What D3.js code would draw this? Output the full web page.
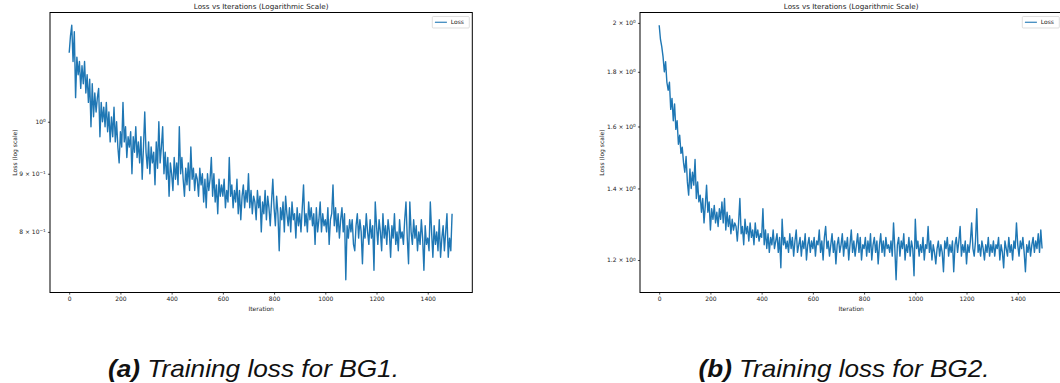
<!DOCTYPE html>
<html>
<head>
<meta charset="utf-8">
<script src="https://cdn.jsdelivr.net/npm/d3@7"></script>
<style>
body { margin: 0; background: #fff; }
svg text { font-family: "DejaVu Sans", sans-serif; fill: #222; }
svg text.caption { font-family: "Liberation Sans", Arial, sans-serif; font-style: italic; fill: #111; }
</style>
</head>
<body>
<div id="chart"></div>
<script>
var width = 1060, height = 383;

// loss, one value every 5 iterations (0..1495), run goes to 1499
var iterStep = 5, lastIter = 1499;

var lossBG1 = [
	1.15, 1.19, 1.216, 1.13, 1.20, 1.05, 1.14, 1.10, 1.13, 1.07, 1.12, 1.08, 1.13, 1.06, 1.10, 1.04, 1.09, 0.99, 1.08, 1.01,
	1.06, 1.02, 1.05, 1.07, 0.97, 1.04, 1.00, 1.03, 0.99, 1.04, 0.98, 1.02, 0.96, 1.01, 0.97, 1.03, 0.96, 1.00, 0.95, 0.92,
	0.98, 0.95, 1.04, 0.96, 0.99, 0.93, 0.97, 0.95, 0.98, 0.90, 0.97, 0.94, 0.99, 0.93, 0.96, 0.92, 0.97, 0.89, 0.95, 1.02,
	0.94, 0.91, 0.96, 0.90, 0.95, 0.92, 0.94, 0.88, 0.96, 0.91, 1.00, 0.92, 0.95, 0.99, 0.90, 0.94, 0.89, 0.93, 0.86, 0.92,
	0.90, 0.87, 0.93, 0.89, 0.92, 0.88, 0.99, 0.90, 0.93, 0.89, 0.86, 0.91, 0.88, 0.92, 0.87, 0.95, 0.89, 0.91, 0.87, 0.90,
	0.89, 0.86, 0.91, 0.88, 0.90, 0.85, 0.89, 0.84, 0.90, 0.87, 0.89, 0.93, 0.86, 0.90, 0.85, 0.88, 0.83, 0.89, 0.86, 0.88,
	0.86, 0.89, 0.84, 0.87, 0.85, 0.93, 0.86, 0.88, 0.84, 0.87, 0.85, 0.89, 0.83, 0.87, 0.82, 0.86, 0.88, 0.84, 0.87, 0.85,
	0.90, 0.84, 0.87, 0.83, 0.86, 0.85, 0.82, 0.87, 0.84, 0.86, 0.80, 0.85, 0.83, 0.87, 0.82, 0.86, 0.84, 0.81, 0.85, 0.89,
	0.84, 0.81, 0.86, 0.83, 0.77, 0.84, 0.82, 0.85, 0.80, 0.86, 0.83, 0.81, 0.84, 0.80, 0.85, 0.82, 0.83, 0.79, 0.84, 0.81,
	0.83, 0.80, 0.84, 0.88, 0.81, 0.83, 0.80, 0.85, 0.82, 0.84, 0.81, 0.83, 0.78, 0.84, 0.80, 0.82, 0.85, 0.80, 0.83, 0.81,
	0.82, 0.80, 0.84, 0.78, 0.82, 0.83, 0.88, 0.81, 0.84, 0.80, 0.83, 0.79, 0.82, 0.84, 0.80, 0.83, 0.726, 0.81, 0.79, 0.82,
	0.80, 0.82, 0.78, 0.77, 0.81, 0.83, 0.79, 0.82, 0.80, 0.75, 0.81, 0.79, 0.83, 0.80, 0.78, 0.82, 0.79, 0.81, 0.74, 0.85,
	0.81, 0.78, 0.82, 0.80, 0.77, 0.83, 0.79, 0.81, 0.78, 0.82, 0.80, 0.76, 0.81, 0.79, 0.83, 0.78, 0.80, 0.77, 0.82, 0.79,
	0.80, 0.78, 0.82, 0.85, 0.79, 0.75, 0.85, 0.80, 0.78, 0.82, 0.79, 0.81, 0.77, 0.80, 0.78, 0.82, 0.79, 0.74, 0.81, 0.78,
	0.79, 0.77, 0.85, 0.80, 0.76, 0.81, 0.78, 0.80, 0.77, 0.82, 0.76, 0.79, 0.81, 0.77, 0.80, 0.83, 0.76, 0.79, 0.77, 0.83
];

var lossBG2 = [
	1.99, 1.93, 1.90, 1.86, 1.80, 1.84, 1.76, 1.73, 1.76, 1.66, 1.70, 1.62, 1.68, 1.59, 1.62, 1.54, 1.57, 1.51, 1.53, 1.48,
	1.45, 1.50, 1.42, 1.38, 1.46, 1.40, 1.45, 1.41, 1.49, 1.37, 1.42, 1.36, 1.38, 1.33, 1.37, 1.30, 1.35, 1.41, 1.33, 1.36,
	1.28, 1.34, 1.31, 1.35, 1.30, 1.33, 1.29, 1.34, 1.31, 1.36, 1.30, 1.37, 1.28, 1.33, 1.29, 1.32, 1.27, 1.31, 1.28, 1.30,
	1.29, 1.25, 1.30, 1.37, 1.27, 1.29, 1.24, 1.31, 1.27, 1.29, 1.25, 1.30, 1.26, 1.28, 1.24, 1.30, 1.26, 1.28, 1.25, 1.27,
	1.26, 1.34, 1.24, 1.28, 1.23, 1.27, 1.22, 1.26, 1.24, 1.28, 1.23, 1.25, 1.27, 1.22, 1.26, 1.18, 1.31, 1.24, 1.26, 1.23,
	1.25, 1.22, 1.27, 1.23, 1.26, 1.21, 1.25, 1.28, 1.22, 1.24, 1.26, 1.21, 1.25, 1.23, 1.27, 1.20, 1.24, 1.26, 1.22, 1.25,
	1.23, 1.26, 1.21, 1.25, 1.24, 1.28, 1.22, 1.25, 1.20, 1.26, 1.29, 1.23, 1.25, 1.21, 1.24, 1.27, 1.22, 1.25, 1.19, 1.24,
	1.26, 1.22, 1.24, 1.27, 1.21, 1.25, 1.23, 1.26, 1.20, 1.24, 1.28, 1.22, 1.25, 1.21, 1.24, 1.27, 1.22, 1.26, 1.20, 1.24,
	1.23, 1.26, 1.21, 1.25, 1.22, 1.27, 1.20, 1.24, 1.26, 1.22, 1.25, 1.19, 1.24, 1.27, 1.22, 1.25, 1.21, 1.26, 1.23, 1.24,
	1.22, 1.25, 1.21, 1.30, 1.23, 1.15, 1.24, 1.26, 1.21, 1.25, 1.23, 1.27, 1.20, 1.24, 1.22, 1.26, 1.21, 1.25, 1.23, 1.16,
	1.31, 1.23, 1.25, 1.21, 1.24, 1.22, 1.26, 1.20, 1.24, 1.23, 1.29, 1.22, 1.25, 1.20, 1.24, 1.22, 1.19, 1.23, 1.25, 1.21,
	1.24, 1.22, 1.17, 1.25, 1.23, 1.26, 1.21, 1.24, 1.22, 1.25, 1.17, 1.24, 1.26, 1.22, 1.25, 1.29, 1.21, 1.24, 1.22, 1.25,
	1.19, 1.24, 1.22, 1.25, 1.30, 1.23, 1.21, 1.25, 1.34, 1.22, 1.24, 1.21, 1.25, 1.23, 1.20, 1.24, 1.22, 1.26, 1.21, 1.24,
	1.22, 1.25, 1.21, 1.24, 1.23, 1.26, 1.20, 1.24, 1.22, 1.18, 1.25, 1.23, 1.21, 1.26, 1.22, 1.24, 1.20, 1.25, 1.23, 1.30,
	1.24, 1.21, 1.25, 1.23, 1.26, 1.22, 1.17, 1.24, 1.22, 1.25, 1.21, 1.24, 1.26, 1.22, 1.25, 1.23, 1.27, 1.22, 1.28, 1.23
];

var xTicks = [0, 200, 400, 600, 800, 1000, 1200, 1400];
var yTicksBG1 = [0.8, 0.9, 1.0];
var yLabelsBG1 = ["8 \u00d7 10^\u22121", "9 \u00d7 10^\u22121", "10^0"];
var yTicksBG2 = [1.2, 1.4, 1.6, 1.8, 2.0];
var yLabelsBG2 = ["1.2 \u00d7 10^0", "1.4 \u00d7 10^0", "1.6 \u00d7 10^0", "1.8 \u00d7 10^0", "2 \u00d7 10^0"];

var chartTitle = "Loss vs Iterations (Logarithmic Scale)";
var seriesName = "Loss";
var lineColor = "#1f77b4";

var svg = d3.select("#chart").append("svg")
	.attr("width", width)
	.attr("height", height);

var plotTop = 12.5, plotW = 422.3, plotH = 280;
var tickLen = 2.1, tickPad = 2.1;

function drawPanel(left, losses, yTicks, yLabels, capTag, capText, capX){

	var g = svg.append("g");

	var x = d3.scaleLinear()
		.domain([-0.05 * lastIter, lastIter * 1.05])
		.range([left, left + plotW]);

	// matplotlib style 5% margin, taken in log space
	var ext = d3.extent(losses).map(Math.log10);
	var pad = (ext[1] - ext[0]) * 0.05;
	var y = d3.scaleLog()
		.domain([Math.pow(10, ext[0] - pad), Math.pow(10, ext[1] + pad)])
		.range([plotTop + plotH, plotTop]);

	var line = d3.line()
		.x(function(d, i){ return x(i * iterStep); })
		.y(function(d){ return y(d); });

	g.append("path")
		.datum(losses)
		.attr("fill", "none")
		.attr("stroke", lineColor)
		.attr("stroke-width", 1.4)
		.attr("stroke-linejoin", "round")
		.attr("d", line);

	var xAxis = g.append("g")
		.attr("transform", "translate(0," + (plotTop + plotH) + ")")
		.call(d3.axisBottom(x).tickValues(xTicks).tickSize(tickLen).tickPadding(tickPad).tickFormat(d3.format("d")));

	var yAxis = g.append("g")
		.attr("transform", "translate(" + left + ",0)")
		.call(d3.axisLeft(y).tickValues(yTicks).tickSize(tickLen).tickPadding(tickPad).tickFormat(""));

	[xAxis, yAxis].forEach(function(a){
		a.attr("font-family", null).attr("font-size", null);
		a.select(".domain").remove();
		a.selectAll(".tick line").attr("stroke", "#000").attr("stroke-width", 0.7);
		a.selectAll(".tick text").attr("font-size", "6px").attr("fill", "#222");
	});

	// tick labels with superscript exponents
	var maxW = 0;
	yAxis.selectAll(".tick text").each(function(d, i){
		var parts = yLabels[i].split("^");
		var t = d3.select(this).text(parts[0]);
		t.append("tspan")
			.attr("dy", "-0.45em")
			.attr("font-size", "4.3px")
			.text(parts[1]);
		maxW = Math.max(maxW, this.getBBox().width);
	});

	g.append("rect")
		.attr("x", left)
		.attr("y", plotTop)
		.attr("width", plotW)
		.attr("height", plotH)
		.attr("fill", "none")
		.attr("stroke", "#000")
		.attr("stroke-width", 1);

	g.append("text")
		.attr("x", left + plotW / 2)
		.attr("y", 9.3)
		.attr("text-anchor", "middle")
		.attr("font-size", "7.2px")
		.text(chartTitle);

	g.append("text")
		.attr("x", left + plotW / 2)
		.attr("y", 310.6)
		.attr("text-anchor", "middle")
		.attr("font-size", "6px")
		.text("Iteration");

	var ly = left - tickLen - tickPad - maxW - 2.4;
	g.append("text")
		.attr("transform", "translate(" + ly + "," + (plotTop + plotH / 2) + ") rotate(-90)")
		.attr("text-anchor", "middle")
		.attr("font-size", "6px")
		.text("Loss (log scale)");

	// legend
	var lx = left + plotW - 40, lyTop = 16.5;
	var leg = g.append("g");
	leg.append("rect")
		.attr("x", lx)
		.attr("y", lyTop)
		.attr("width", 37)
		.attr("height", 11.5)
		.attr("rx", 1)
		.attr("fill", "#fff")
		.attr("stroke", "#d0d0d0")
		.attr("stroke-width", 0.7);
	leg.append("line")
		.attr("x1", lx + 2.6)
		.attr("x2", lx + 14.6)
		.attr("y1", lyTop + 5.75)
		.attr("y2", lyTop + 5.75)
		.attr("stroke", lineColor)
		.attr("stroke-width", 1.1);
	leg.append("text")
		.attr("x", lx + 18.5)
		.attr("y", lyTop + 7.9)
		.attr("font-size", "6px")
		.text(seriesName);

	// sub figure caption
	var cap = svg.append("text")
		.attr("class", "caption")
		.attr("x", capX)
		.attr("y", 377)
		.attr("text-anchor", "middle")
		.attr("font-size", "24px")
		.attr("textLength", 291)
		.attr("lengthAdjust", "spacingAndGlyphs");
	cap.append("tspan").attr("font-weight", "bold").text(capTag);
	cap.append("tspan").text(capText);
}

drawPanel(50, lossBG1, yTicksBG1, yLabelsBG1, "(a)", " Training loss for BG1.", 253.5);
drawPanel(640, lossBG2, yTicksBG2, yLabelsBG2, "(b)", " Training loss for BG2.", 844);
</script>
</body>
</html>
